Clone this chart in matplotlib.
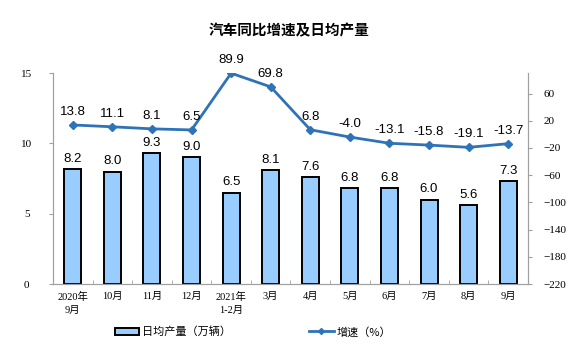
import matplotlib
matplotlib.use("Agg")
import matplotlib.pyplot as plt
import numpy as np
from matplotlib.lines import Line2D
from matplotlib.patches import Patch

# ===== Datos =====
months = ["2020年\n9月", "10月", "11月", "12月", "2021年\n1-2月", "3月",
          "4月", "5月", "6月", "7月", "8月", "9月"]
daily_output = [8.2, 8.0, 9.3, 9.0, 6.5, 8.1, 7.6, 6.8, 6.8, 6.0, 5.6, 7.3]
growth = [13.8, 11.1, 8.1, 6.5, 89.9, 69.8, 6.8, -4.0, -13.1, -15.8, -19.1, -13.7]

CJK = ["Noto Sans CJK SC", "DejaVu Sans"]
SERIF = ["Liberation Serif", "Noto Sans CJK SC"]
SANS = ["Liberation Sans", "DejaVu Sans"]

bar_color = "#99CCFF"
line_color = "#2E73B8"
axis_grey = "#A0A0A0"

fig = plt.figure(figsize=(5.75, 3.55), dpi=100)
ax = fig.add_axes([0.0922, 0.2, 0.826, 0.594])
ax2 = ax.twinx()

x = np.arange(len(months))

# ===== Barras =====
ax.bar(x, daily_output, width=0.43, color=bar_color, edgecolor="black",
       linewidth=1.4, zorder=2)
for xi, v in zip(x, daily_output):
    ax.annotate(f"{v:.1f}", (xi, v), xytext=(0, 3), textcoords="offset points",
                ha="center", va="bottom", fontsize=9.5, family=SANS)

ax.set_ylim(0, 15)
ax.set_yticks([0, 5, 10, 15])
ax.set_xlim(-0.5, len(months) - 0.5)
ax.set_xticks(x)
ax.set_xticklabels(months, family=SERIF, fontsize=7.5, linespacing=1.5)
ax.set_xticks(np.arange(-0.5, len(months), 1), minor=True)
ax.tick_params(axis="x", which="major", length=0, pad=6)
ax.tick_params(axis="x", which="minor", length=3, color=axis_grey, direction="in")
ax.tick_params(axis="y", length=3, color=axis_grey, pad=16,
               labelfontfamily=SERIF, labelsize=8)
for lab in ax.get_yticklabels():
    lab.set_horizontalalignment("center")

# ===== Línea =====
ax2.plot(x, growth, color=line_color, linewidth=2, marker="D", markersize=4,
         zorder=3)
for xi, v in zip(x, growth):
    ax2.annotate(f"{v:.1f}", (xi, v), xytext=(0, 5), textcoords="offset points",
                 ha="center", va="bottom", fontsize=9.5, family=SANS)
ax2.set_ylim(-220, 90)
ax2.set_yticks(np.arange(-220, 61, 40))
ax2.tick_params(axis="y", length=3, color=axis_grey, pad=8,
                labelfontfamily=SERIF, labelsize=8)

for a in (ax, ax2):
    a.spines["top"].set_visible(False)
    for s in ("left", "right", "bottom"):
        a.spines[s].set_color(axis_grey)
        a.spines[s].set_linewidth(0.8)

fig.text(0.503, 0.915, "汽车同比增速及日均产量", ha="center", va="center",
         fontsize=10.5, fontweight="bold", family=CJK)

handles = [Patch(facecolor=bar_color, edgecolor="black", linewidth=1.4),
           Line2D([0], [0], color=line_color, linewidth=2, marker="D", markersize=3)]
fig.legend(handles, ["日均产量（万辆）", "增速（%）"], loc="center",
           bbox_to_anchor=(0.44, 0.065), ncol=2, frameon=False,
           prop={"family": CJK, "size": 8}, columnspacing=7,
           handlelength=2.2, handletextpad=0.3)

fig.savefig("out.png", dpi=100)
